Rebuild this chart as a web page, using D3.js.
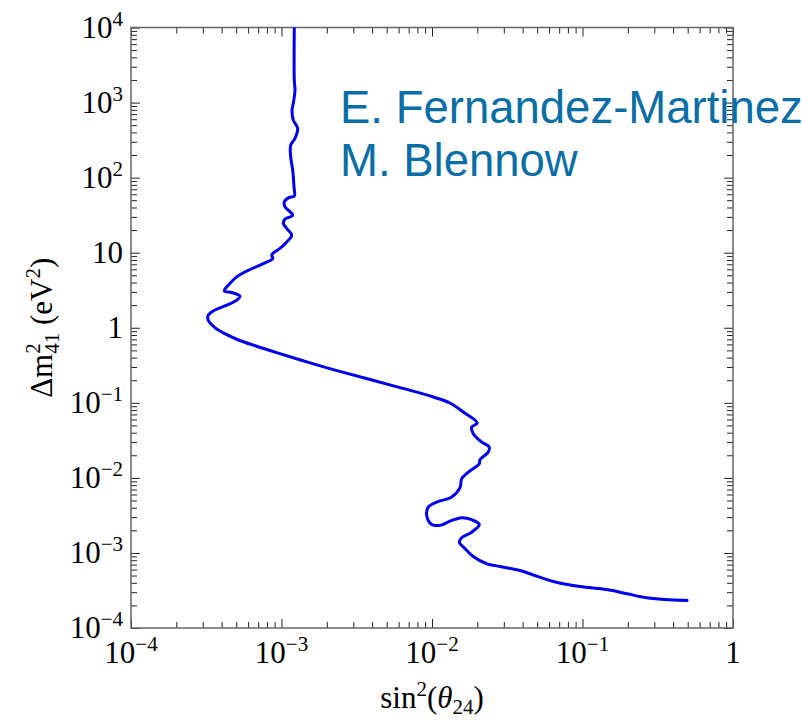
<!DOCTYPE html>
<html>
<head>
<meta charset="utf-8">
<script src="https://cdn.jsdelivr.net/npm/d3@7"></script>
<style>
  body { margin: 0; background: #fff; }
</style>
</head>
<body>
<div id="graph"></div>
<script>

// exclusion contour
var sin2 = [1.216e-3, 1.216e-3, 1.229e-3, 1.198e-3, 1.175e-3, 1.198e-3, 1.281e-3, 1.229e-3, 1.151e-3, 1.151e-3,
            1.187e-3, 1.211e-3, 1.216e-3, 1.127e-3, 1.044e-3, 1.055e-3, 1.187e-3, 1.055e-3, 1.028e-3, 1.083e-3,
            1.169e-3, 1.083e-3, 9.77e-4, 8.82e-4, 8.61e-4, 8.74e-4, 7.77e-4, 6.18e-4, 5.04e-4, 4.43e-4,
            4.17e-4, 4.67e-4, 5.30e-4, 5.04e-4, 4.21e-4, 3.52e-4, 3.26e-4, 3.26e-4, 3.61e-4, 4.11e-4,
            5.04e-4, 6.84e-4, 9.29e-4, 1.396e-3, 2.21e-3, 6.13e-3, 1.02e-2, 1.317e-2, 1.614e-2, 2.0e-2,
            1.835e-2, 1.881e-2, 2.139e-2, 2.40e-2, 2.366e-2, 2.084e-2, 2.062e-2, 1.743e-2, 1.575e-2, 1.535e-2,
            1.352e-2, 1.075e-2, 9.45e-3, 9.22e-3, 9.95e-3, 1.130e-2, 1.317e-2, 1.575e-2, 1.835e-2, 2.062e-2,
            1.835e-2, 1.575e-2, 1.518e-2, 1.657e-2, 1.881e-2, 2.309e-2, 2.83e-2, 3.84e-2, 4.48e-2, 6.40e-2,
            9.62e-2, 0.1446, 0.198, 0.267, 0.381, 0.505];

var dm2 = [1e4, 2000, 1468, 976, 794, 584, 453, 333, 271, 189,
           126, 75.4, 56.7, 54.5, 47.6, 40.8, 31.6, 28.0, 24.5, 21.0,
           17.1, 13.9, 11.4, 9.94, 9.26, 8.37, 7.31, 5.97, 4.76, 3.69,
           3.10, 2.95, 2.63, 2.33, 1.95, 1.675, 1.468, 1.259, 1.006, 0.853,
           0.703, 0.567, 0.467, 0.363, 0.277, 0.1595, 0.1195, 0.0994, 0.0754, 0.0538,
           0.0476, 0.0388, 0.0300, 0.02575, 0.02208, 0.01748, 0.01546, 0.01195, 0.00976, 0.00740,
           0.00555, 0.00476, 0.00408, 0.00316, 0.00240, 0.00233, 0.00265, 0.00295, 0.00277, 0.00240,
           0.00189, 0.00159, 0.00139, 0.00114, 0.000898, 0.000718, 0.000661, 0.000584, 0.000528, 0.000417,
           0.000358, 0.000326, 0.000286, 0.000253, 0.000238, 0.000233];

var xTickValues = [1e-4, 1e-3, 1e-2, 1e-1, 1];
var xTickLabels = ["10^\u22124", "10^\u22123", "10^\u22122", "10^\u22121", "1"];
var yTickValues = [1e-4, 1e-3, 1e-2, 1e-1, 1, 10, 1e2, 1e3, 1e4];
var yTickLabels = ["10^\u22124", "10^\u22123", "10^\u22122", "10^\u22121", "1", "10", "10^2", "10^3", "10^4"];
var authors = ["E. Fernandez-Martinez", "M. Blennow"];

// set the dimensions and margins of the graph
var margin = {top: 27.5, right: 69, bottom: 94, left: 131},
    width = 802 - margin.left - margin.right,
    height = 722 - margin.top - margin.bottom;

var svg = d3.select("#graph")
  .append("svg")
    .attr("width", 802)
    .attr("height", 722)
  .append("g")
    .attr("transform", "translate(" + margin.left + "," + margin.top + ")");

var x = d3.scaleLog().domain([1e-4, 1]).range([0, width]);
var y = d3.scaleLog().domain([1e-4, 1e4]).range([height, 0]);

// minor ticks 2..9 in each decade
function minors(lo, hi) {
  var out = [];
  for (var e = lo; e < hi; e++)
    for (var k = 2; k <= 9; k++) out.push(k * Math.pow(10, e));
  return out;
}
var xMinor = minors(-4, 0), yMinor = minors(-4, 4);

function addTicks(axisFn, scale, vals, len, tr) {
  var g = svg.append("g")
    .attr("transform", tr)
    .call(axisFn(scale).tickValues(vals).tickSize(-len).tickFormat(""));
  g.select(".domain").remove();
  g.selectAll("text").remove();
  g.selectAll("line").attr("stroke", "#222").attr("stroke-width", 1);
}
addTicks(d3.axisBottom, x, xTickValues, 9, "translate(0," + height + ")");
addTicks(d3.axisBottom, x, xMinor, 6, "translate(0," + height + ")");
addTicks(d3.axisTop, x, xTickValues, 9, "translate(0,0)");
addTicks(d3.axisTop, x, xMinor, 6, "translate(0,0)");
addTicks(d3.axisLeft, y, yTickValues, 9, "translate(0,0)");
addTicks(d3.axisLeft, y, yMinor, 6, "translate(0,0)");
addTicks(d3.axisRight, y, yTickValues, 9, "translate(" + width + ",0)");
addTicks(d3.axisRight, y, yMinor, 6, "translate(" + width + ",0)");

// frame
svg.append("rect")
  .attr("width", width)
  .attr("height", height)
  .attr("fill", "none")
  .attr("stroke", "#666")
  .attr("stroke-width", 1.5);

var serif = "'Liberation Serif', 'Times New Roman', serif";

function powLabel(sel, txt) {
  var parts = txt.split("^");
  sel.append("tspan").text(parts[0]);
  if (parts.length > 1)
    sel.append("tspan").attr("font-size", 21).attr("dy", -12).text(parts[1]);
}

// x tick labels
xTickValues.forEach(function(v, i) {
  var t = svg.append("text")
    .attr("x", x(v))
    .attr("y", height + 35)
    .attr("text-anchor", "middle")
    .attr("font-family", serif)
    .attr("font-size", 31)
    .attr("fill", "#000");
  powLabel(t, xTickLabels[i]);
});

// y tick labels
yTickValues.forEach(function(v, i) {
  var t = svg.append("text")
    .attr("x", -8)
    .attr("y", y(v) + 10)
    .attr("text-anchor", "end")
    .attr("font-family", serif)
    .attr("font-size", 31)
    .attr("fill", "#000");
  powLabel(t, yTickLabels[i]);
});

// x axis title: sin^2(theta_24)
var xt = svg.append("text")
  .attr("x", width / 2)
  .attr("y", height + 80)
  .attr("text-anchor", "middle")
  .attr("font-family", serif)
  .attr("font-size", 31);
xt.append("tspan").text("sin");
xt.append("tspan").attr("font-size", 21).attr("dy", -12).text("2");
xt.append("tspan").attr("dy", 12).text("(");
xt.append("tspan").attr("font-style", "italic").text("\u03b8");
xt.append("tspan").attr("font-size", 21).attr("dy", 6).text("24");
xt.append("tspan").attr("dy", -6).text(")");

// y axis title: Delta m^2_41 (eV^2)
var yt = svg.append("text")
  .attr("transform", "translate(" + (52 - margin.left) + "," + (height / 2) + ") rotate(-90)")
  .attr("text-anchor", "middle")
  .attr("font-family", serif)
  .attr("font-size", 31);
yt.append("tspan").text("\u0394m");
yt.append("tspan").attr("font-size", 21).attr("dy", -12).text("2");
yt.append("tspan").attr("font-size", 21).attr("dx", -10.5).attr("dy", 19).text("41");
yt.append("tspan").attr("dy", -7).text(" (eV");
yt.append("tspan").attr("font-size", 21).attr("dy", -12).text("2");
yt.append("tspan").attr("dy", 12).text(")");

// the contour
var pts = sin2.map(function(s, i) { return [s, dm2[i]]; });
svg.append("path")
  .datum(pts)
  .attr("fill", "none")
  .attr("stroke", "#0000ee")
  .attr("stroke-width", 3)
  .attr("stroke-linejoin", "round")
  .attr("d", d3.line()
    .x(function(d) { return x(d[0]); })
    .y(function(d) { return y(d[1]); })
    .curve(d3.curveCatmullRom.alpha(0.5)));

// author note
authors.forEach(function(a, i) {
  svg.append("text")
    .attr("x", 340 - margin.left)
    .attr("y", 123 - margin.top + i * 53)
    .attr("font-family", "'Liberation Sans', Arial, sans-serif")
    .attr("font-size", 45.5)
    .attr("fill", "#0a6ea6")
    .text(a);
});

</script>
</body>
</html>
